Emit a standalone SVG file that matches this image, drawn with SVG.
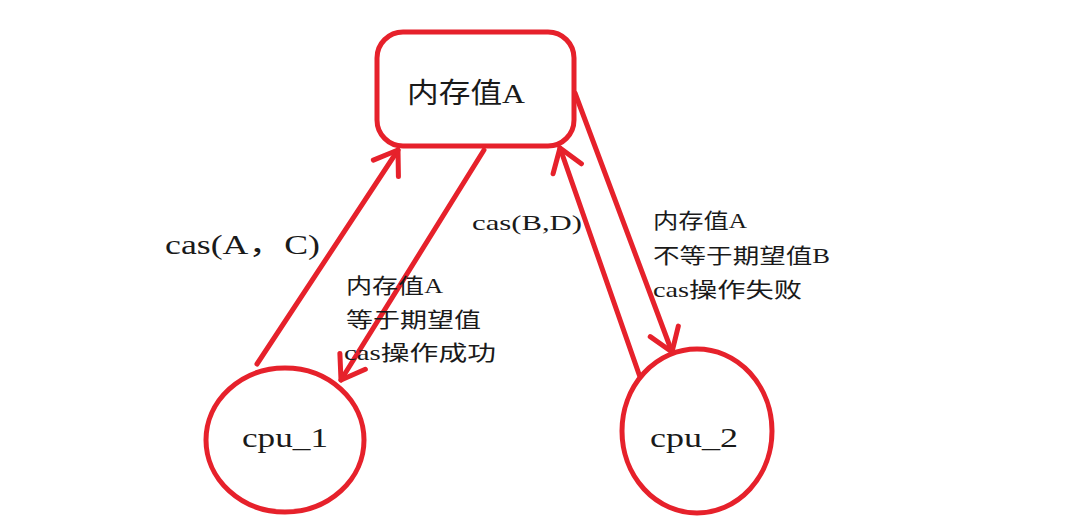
<svg xmlns="http://www.w3.org/2000/svg" width="1067" height="522" viewBox="0 0 1067 522">
<defs>
<style>
.shape{fill:#fff;stroke:#e6212b;stroke-width:5}
.edge{fill:none;stroke:#e6212b;stroke-width:5;stroke-linecap:round}
.t{font-family:"Liberation Serif","Noto Sans CJK SC",serif;fill:#1a1a1a;dominant-baseline:central}
.lbl{font-size:21px}
</style>
<marker id="arr" viewBox="-26 -18 30 36" refX="0" refY="0" markerWidth="30" markerHeight="36" markerUnits="userSpaceOnUse" orient="auto">
<path d="M-22,-15 L0,0 L-22,15" fill="none" stroke="#e6212b" stroke-width="5" stroke-linecap="round" stroke-linejoin="round"/>
</marker>
</defs>
<rect width="1067" height="522" fill="#fff"/>
<g id="connectors">
<line class="edge" x1="257" y1="364" x2="398" y2="150" marker-end="url(#arr)"/>
<line class="edge" x1="484" y1="150" x2="341" y2="380" marker-end="url(#arr)"/>
<line class="edge" x1="640" y1="377" x2="560" y2="148" marker-end="url(#arr)"/>
<line class="edge" x1="575" y1="93" x2="672" y2="352" marker-end="url(#arr)"/>
<text class="t" x="165" y="245" font-size="27" textLength="155" lengthAdjust="spacingAndGlyphs">cas(A，C)</text>
<text class="t lbl" x="346" y="286" textLength="97" lengthAdjust="spacingAndGlyphs">内存值A</text>
<text class="t lbl" x="346" y="320" textLength="135" lengthAdjust="spacingAndGlyphs">等于期望值</text>
<text class="t lbl" x="344" y="353" textLength="152" lengthAdjust="spacingAndGlyphs">cas操作成功</text>
<text class="t lbl" x="472" y="223" textLength="110" lengthAdjust="spacingAndGlyphs">cas(B,D)</text>
<text class="t lbl" x="653" y="221" textLength="94" lengthAdjust="spacingAndGlyphs">内存值A</text>
<text class="t lbl" x="653" y="256" textLength="177" lengthAdjust="spacingAndGlyphs">不等于期望值B</text>
<text class="t lbl" x="653" y="290" textLength="149" lengthAdjust="spacingAndGlyphs">cas操作失败</text>
</g>
<g id="memory">
<rect class="shape" x="377" y="32" width="197" height="114" rx="26"/>
<text class="t" x="407" y="93" font-size="28" textLength="118" lengthAdjust="spacingAndGlyphs">内存值A</text>
</g>
<g id="cpu1">
<ellipse class="shape" cx="285" cy="440" rx="79" ry="72"/>
<text class="t" x="242" y="438" font-size="27" textLength="86" lengthAdjust="spacingAndGlyphs">cpu_1</text>
</g>
<g id="cpu2">
<ellipse class="shape" cx="697" cy="431" rx="75" ry="82"/>
<text class="t" x="650" y="438" font-size="27" textLength="88" lengthAdjust="spacingAndGlyphs">cpu_2</text>
</g>
</svg>
